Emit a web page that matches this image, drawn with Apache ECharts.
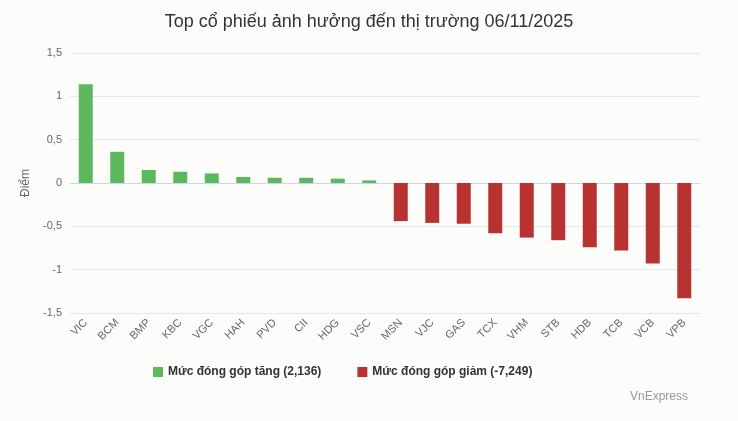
<!DOCTYPE html>
<html>
<head>
<meta charset="utf-8">
<script src="https://cdn.jsdelivr.net/npm/echarts@6/dist/echarts.min.js"></script>
<style>html,body{margin:0;padding:0;background:#fcfcfa;}#main{width:738px;height:421px;}</style>
</head>
<body>
<div id="main"></div>
<script>
var categories = ['VIC','BCM','BMP','KBC','VGC','HAH','PVD','CII','HDG','VSC','MSN','VJC','GAS','TCX','VHM','STB','HDB','TCB','VCB','VPB'];
var upValues = [1.14,0.36,0.15,0.13,0.11,0.07,0.06,0.06,0.05,0.03,'-','-','-','-','-','-','-','-','-','-'];
var downValues = ['-','-','-','-','-','-','-','-','-','-',-0.44,-0.46,-0.47,-0.58,-0.63,-0.66,-0.74,-0.78,-0.93,-1.33];

var myChart = echarts.init(document.getElementById('main'));
var option = {
    backgroundColor: '#fcfcfa',
    textStyle: {fontFamily: 'Arial, "Liberation Sans", sans-serif'},
    title: {
        text: 'Top cổ phiếu ảnh hưởng đến thị trường 06/11/2025',
        left: 'center', top: 8,
        textStyle: {fontSize: 18, fontWeight: 'normal', color: '#333'}
    },
    graphic: [{type: 'text', right: 50, bottom: 18, style: {text: 'VnExpress', fill: '#999', fontSize: 12}}],
    legend: {
        bottom: 38, left: 148, itemGap: 36, itemWidth: 10, itemHeight: 10, icon: 'rect',
        textStyle: {fontSize: 12, fontWeight: 'bold', color: '#333'},
        data: ['Mức đóng góp tăng (2,136)', 'Mức đóng góp giảm (-7,249)']
    },
    grid: {left: 70, right: 38, top: 53, bottom: 108},
    xAxis: {
        type: 'category', data: categories,
        axisLine: {lineStyle: {color: '#ccd6eb'}},
        axisTick: {show: false},
        axisLabel: {rotate: 45, color: '#666', fontSize: 11, interval: 0}
    },
    yAxis: {
        type: 'value', min: -1.5, max: 1.5, interval: 0.5,
        name: 'Điểm', nameLocation: 'middle', nameGap: 38,
        nameTextStyle: {color: '#666', fontSize: 12},
        axisLabel: {color: '#666', fontSize: 11, formatter: function (v) { return String(v).replace('.', ','); }},
        splitLine: {lineStyle: {color: '#e6e6e6'}}
    },
    series: [
        {name: 'Mức đóng góp tăng (2,136)', type: 'bar', stack: 's', barWidth: 14, data: upValues, itemStyle: {color: '#5cb85c'}},
        {name: 'Mức đóng góp giảm (-7,249)', type: 'bar', stack: 's', barWidth: 14, data: downValues, itemStyle: {color: '#b83232'}}
    ]
};
myChart.setOption(option);
</script>
</body>
</html>
